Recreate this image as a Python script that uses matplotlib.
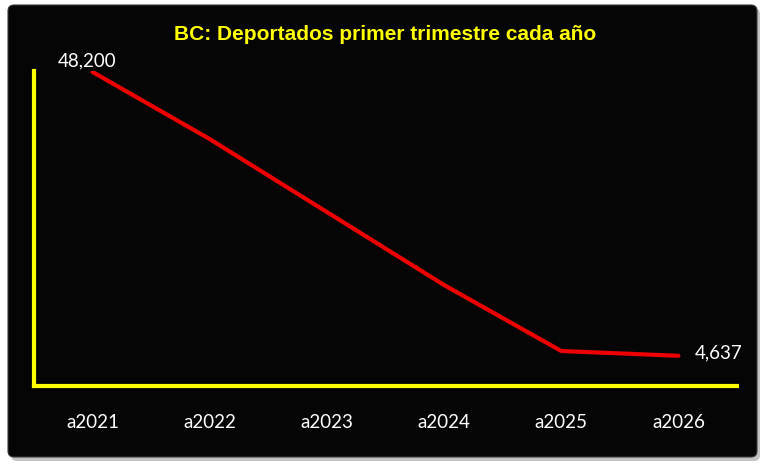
import numpy as np
import matplotlib.pyplot as plt
from matplotlib import patches

years = ['a2021', 'a2022', 'a2023', 'a2024', 'a2025', 'a2026']
deportados = [48200, 37900, 26700, 15500, 5370, 4637]
titulo = 'BC: Deportados primer trimestre cada año'

W, H = 768, 468
fig = plt.figure(figsize=(W / 100, H / 100), dpi=100, facecolor='white')

# fondo: recuadro negro redondeado con sombra y bisel
bg = fig.add_axes([0, 0, 1, 1])
bg.set_xlim(0, W)
bg.set_ylim(H, 0)
bg.axis('off')
sombra = patches.FancyBboxPatch((11, 8), 749, 453, boxstyle='round,pad=0,rounding_size=6',
                                facecolor='#9a9a9a', edgecolor='none', alpha=0.6)
bg.add_patch(sombra)
caja = patches.FancyBboxPatch((8, 5), 749, 452, boxstyle='round,pad=0,rounding_size=6',
                              facecolor='#050505', edgecolor='#3a3a3a', lw=0.8)
bg.add_patch(caja)
grad = np.linspace(1, 0, 64).reshape(-1, 1) ** 1.4
img = bg.imshow(np.dstack([np.full_like(grad, 0.6)] * 3 + [grad * 0.95]),
                extent=(8, 757, 20, 5), aspect='auto', interpolation='bilinear')
img.set_clip_path(caja)
gradl = np.linspace(1, 0, 32).reshape(1, -1) ** 1.6
imgl = bg.imshow(np.dstack([np.full_like(gradl, 0.45)] * 3 + [gradl * 0.5]),
                 extent=(8, 16, 457, 5), aspect='auto', interpolation='bilinear')
imgl.set_clip_path(caja)

fig.text(385 / W, 1 - 35 / H, titulo, color='#ffff00', fontsize=15, fontweight='bold',
         family='Liberation Sans', ha='center', va='center')

ax = fig.add_axes([34 / W, 1 - 386 / H, (737 - 34) / W, (386 - 71) / H])
ax.patch.set_alpha(0)
x = np.arange(len(years))
ax.plot(x, deportados, color='#ee0000', lw=3.0, solid_capstyle='round', solid_joinstyle='round')
ax.set_xlim(-0.5, len(years) - 0.5)
ax.set_ylim(0, 48350)
ax.set_xticks(x)
ax.set_xticklabels(years, color='white', fontsize=13.5, family='Lato')
ax.tick_params(axis='x', length=0, pad=20)
ax.set_yticks([])
for s in ['top', 'right']:
    ax.spines[s].set_visible(False)
for s in ['left', 'bottom']:
    ax.spines[s].set_color('#ffff00')
    ax.spines[s].set_linewidth(3)
    ax.spines[s].set_capstyle('projecting')

ax.annotate(f'{deportados[0]:,}', (x[0], deportados[0]), xytext=(-6, 11),
            textcoords='offset pixels', color='white', fontsize=13.5, family='Lato',
            ha='center', va='center')
ax.annotate(f'{deportados[-1]:,}', (x[-1], deportados[-1]), xytext=(40, 3),
            textcoords='offset pixels', color='white', fontsize=13.5, family='Lato',
            ha='center', va='center')

fig.savefig('out.png', dpi=100, facecolor='white')
